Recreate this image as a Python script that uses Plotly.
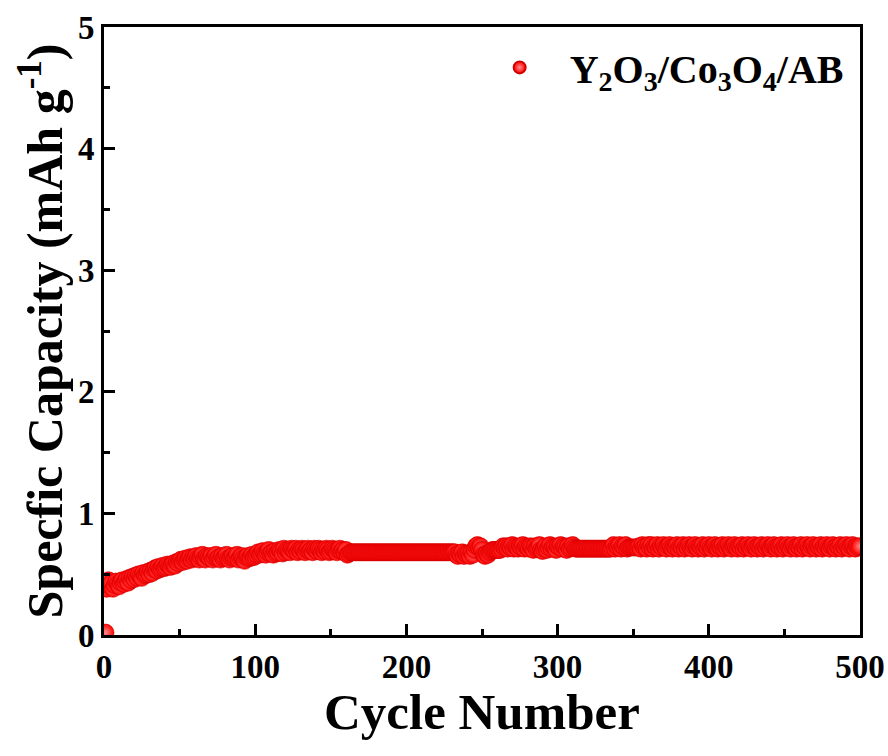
import plotly.graph_objects as go

cycles = list(range(1, 501))
capacity = [
    0.02, 0.38, 0.45, 0.40, 0.43, 0.38, 0.41, 0.44, 0.42, 0.40, 0.43, 0.45, 0.42, 0.44, 0.46, 0.43, 0.47, 0.45, 0.48, 0.46,
    0.49, 0.47, 0.50, 0.48, 0.47, 0.51, 0.49, 0.50, 0.52, 0.50, 0.53, 0.51, 0.54, 0.55, 0.53, 0.56, 0.54, 0.55, 0.57, 0.55,
    0.56, 0.58, 0.57, 0.56, 0.58, 0.59, 0.57, 0.60, 0.59, 0.61, 0.62, 0.60, 0.62, 0.63, 0.61, 0.63, 0.64, 0.62, 0.64, 0.63,
    0.65, 0.63, 0.62, 0.64, 0.66, 0.63, 0.62, 0.65, 0.64, 0.63, 0.65, 0.62, 0.64, 0.66, 0.63, 0.64, 0.62, 0.65, 0.63, 0.64,
    0.66, 0.63, 0.62, 0.64, 0.65, 0.63, 0.64, 0.66, 0.62, 0.64, 0.65, 0.63, 0.61, 0.64, 0.65, 0.63, 0.64, 0.66, 0.64, 0.65,
    0.66, 0.68, 0.66, 0.67, 0.69, 0.67, 0.66, 0.68, 0.70, 0.67, 0.68, 0.66, 0.69, 0.67, 0.68, 0.70, 0.69, 0.67, 0.71, 0.68,
    0.70, 0.69, 0.68, 0.71, 0.70, 0.69, 0.71, 0.68, 0.70, 0.69, 0.71, 0.70, 0.68, 0.70, 0.71, 0.69, 0.70, 0.68, 0.71, 0.70,
    0.69, 0.71, 0.70, 0.68, 0.70, 0.69, 0.71, 0.70, 0.68, 0.69, 0.71, 0.70, 0.69, 0.68, 0.70, 0.71, 0.69, 0.70, 0.68, 0.70,
    0.66, 0.67, 0.68, 0.68, 0.68, 0.68, 0.68, 0.68, 0.68, 0.68, 0.68, 0.68, 0.68, 0.68, 0.68, 0.68, 0.68, 0.68, 0.68, 0.68,
    0.68, 0.68, 0.68, 0.68, 0.68, 0.68, 0.68, 0.68, 0.68, 0.68, 0.68, 0.68, 0.68, 0.68, 0.68, 0.68, 0.68, 0.68, 0.68, 0.68,
    0.68, 0.68, 0.68, 0.68, 0.68, 0.68, 0.68, 0.68, 0.68, 0.68, 0.68, 0.68, 0.68, 0.68, 0.68, 0.68, 0.68, 0.68, 0.68, 0.68,
    0.68, 0.68, 0.68, 0.68, 0.68, 0.68, 0.68, 0.68, 0.68, 0.68, 0.68, 0.68, 0.66, 0.65, 0.67, 0.66, 0.68, 0.65, 0.67, 0.66,
    0.67, 0.65, 0.68, 0.66, 0.70, 0.73, 0.74, 0.72, 0.73, 0.70, 0.66, 0.65, 0.67, 0.66, 0.68, 0.69, 0.70, 0.70, 0.70, 0.70,
    0.70, 0.70, 0.71, 0.73, 0.72, 0.73, 0.71, 0.73, 0.72, 0.74, 0.71, 0.73, 0.72, 0.71, 0.73, 0.72, 0.74, 0.71, 0.73, 0.72,
    0.71, 0.73, 0.72, 0.70, 0.73, 0.71, 0.72, 0.74, 0.70, 0.69, 0.71, 0.73, 0.70, 0.72, 0.74, 0.71, 0.73, 0.72, 0.70, 0.73,
    0.72, 0.74, 0.71, 0.73, 0.72, 0.70, 0.73, 0.71, 0.72, 0.74, 0.72, 0.71, 0.71, 0.71, 0.71, 0.71, 0.71, 0.71, 0.71, 0.71,
    0.71, 0.71, 0.71, 0.71, 0.71, 0.71, 0.71, 0.71, 0.71, 0.71, 0.71, 0.71, 0.71, 0.71, 0.71, 0.72, 0.74, 0.71, 0.73, 0.72,
    0.74, 0.71, 0.73, 0.72, 0.74, 0.71, 0.72, 0.72, 0.72, 0.72, 0.72, 0.72, 0.72, 0.73, 0.71, 0.74, 0.72, 0.73, 0.71, 0.74,
    0.72, 0.74, 0.71, 0.73, 0.72, 0.74, 0.71, 0.73, 0.72, 0.74, 0.72, 0.71, 0.73, 0.74, 0.72, 0.71, 0.73, 0.72, 0.74, 0.71,
    0.73, 0.72, 0.74, 0.71, 0.73, 0.72, 0.74, 0.72, 0.71, 0.73, 0.74, 0.72, 0.71, 0.73, 0.72, 0.74, 0.71, 0.73, 0.72, 0.74,
    0.72, 0.71, 0.73, 0.74, 0.72, 0.71, 0.73, 0.72, 0.74, 0.71, 0.73, 0.72, 0.74, 0.72, 0.71, 0.73, 0.74, 0.72, 0.71, 0.73,
    0.72, 0.74, 0.71, 0.73, 0.72, 0.74, 0.72, 0.71, 0.73, 0.74, 0.72, 0.71, 0.73, 0.72, 0.74, 0.71, 0.73, 0.72, 0.74, 0.72,
    0.71, 0.73, 0.74, 0.72, 0.71, 0.73, 0.72, 0.74, 0.71, 0.73, 0.72, 0.74, 0.72, 0.71, 0.73, 0.74, 0.72, 0.71, 0.73, 0.72,
    0.74, 0.71, 0.73, 0.72, 0.74, 0.72, 0.71, 0.73, 0.74, 0.72, 0.71, 0.73, 0.72, 0.74, 0.71, 0.73, 0.72, 0.74, 0.72, 0.71,
    0.73, 0.74, 0.72, 0.71, 0.73, 0.72, 0.74, 0.71, 0.73, 0.72, 0.74, 0.72, 0.71, 0.73, 0.74, 0.72, 0.71, 0.73, 0.72, 0.73,
]
series_name = "Y<sub>2</sub>O<sub>3</sub>/Co<sub>3</sub>O<sub>4</sub>/AB"
x_title = "Cycle Number"
y_title = "Specfic Capacity (mAh g<sup>-1</sup>)"

FONT = "Liberation Serif"

fig = go.Figure()
fig.add_trace(go.Scatter(
    x=cycles, y=capacity, mode="markers",
    name="\u00a0\u00a0\u00a0" + series_name,
    marker=dict(size=17, color="#ff0000",
                line=dict(width=0.6, color="#d00000"),
                gradient=dict(type="radial", color="#ff8c8c")),
    cliponaxis=True,
))

axis_common = dict(
    showline=True, linewidth=3, linecolor="black", mirror=True,
    ticks="inside", ticklen=11, tickwidth=2.5, tickcolor="black",
    showgrid=False, zeroline=False, automargin=False,
    tickfont=dict(family=FONT, size=33, color="black", weight="bold"),
)

fig.update_xaxes(
    range=[0, 500], dtick=100, tick0=0,
    minor=dict(ticks="inside", ticklen=6, tickwidth=2.5, dtick=50, tickcolor="black"),
    **axis_common,
)
fig.update_yaxes(
    range=[0, 5], dtick=1, tick0=0,
    minor=dict(ticks="inside", ticklen=6, tickwidth=2.5, dtick=0.5, tickcolor="black"),
    title=dict(text=y_title, font=dict(family=FONT, size=50, color="black", weight="bold"), standoff=0),
    **axis_common,
)

fig.add_annotation(
    text=x_title, xref="paper", yref="paper", x=0.5, y=0,
    xanchor="center", yanchor="middle", yshift=-77, showarrow=False,
    font=dict(family=FONT, size=51, color="black", weight="bold"),
)

fig.update_layout(
    width=888, height=756,
    margin=dict(l=104, r=28, t=27, b=121),
    paper_bgcolor="white", plot_bgcolor="white",
    showlegend=True,
    legend=dict(x=0.985, y=0.987, xanchor="right", yanchor="top",
                bgcolor="rgba(0,0,0,0)",
                font=dict(family=FONT, size=40, color="black", weight="bold"),
                itemsizing="constant"),
)

fig.write_html("out.html")
